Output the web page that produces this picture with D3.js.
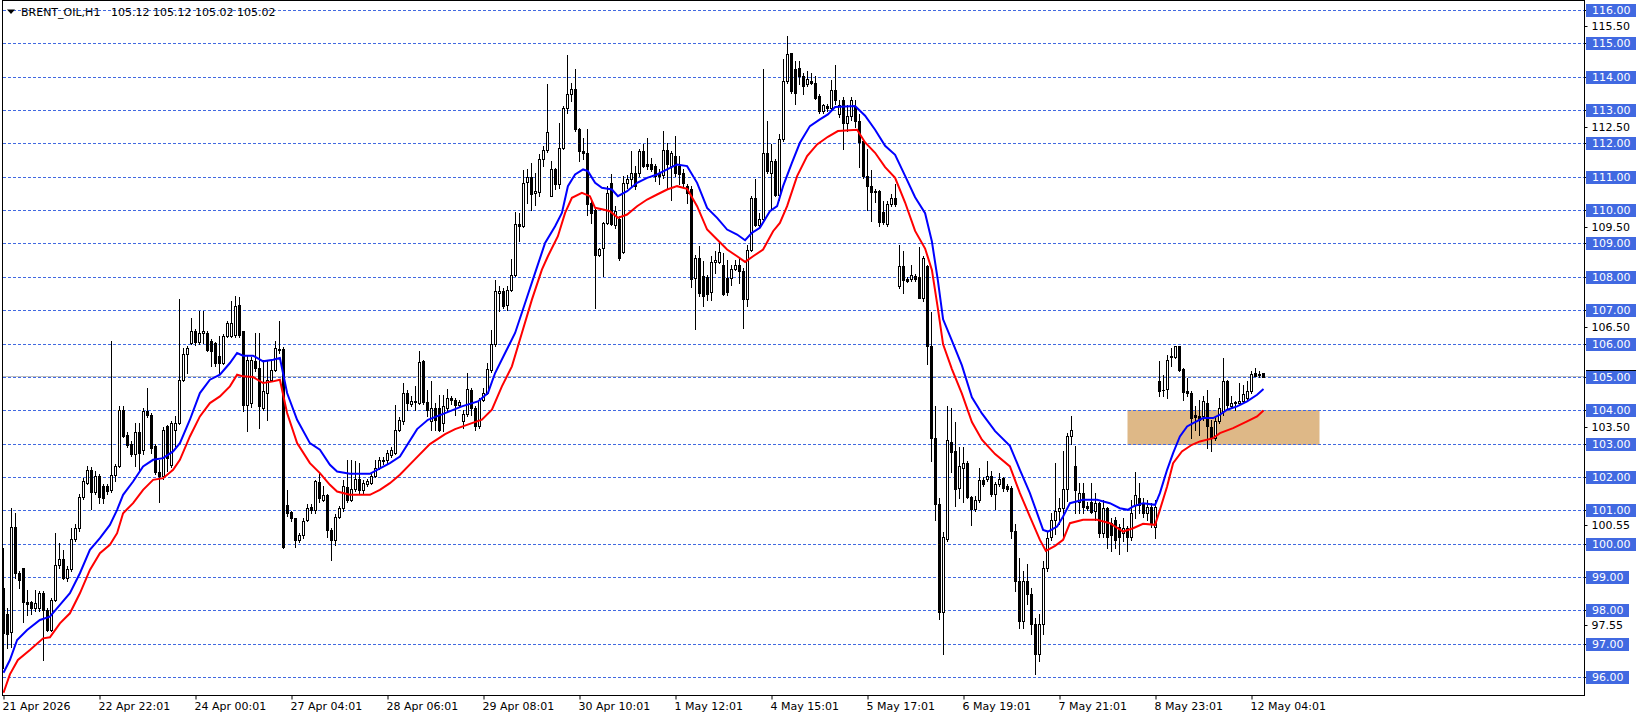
<!DOCTYPE html>
<html><head><meta charset="utf-8">
<script src="https://cdn.jsdelivr.net/npm/d3@7"></script>
<style>
body{margin:0;background:#fff}
svg{display:block}
text{font-family:"DejaVu Sans",sans-serif;font-size:11px}
</style>
</head><body>
<svg id="chart" width="1641" height="719"></svg>
<script>
// ---- DATA ----
const title = "BRENT_OIL,H1";
const titleValues = "105.12 105.12 105.02 105.02";
// hourly candles: [open, high, low, close]
const ohlc = [
[98.70,99.90,96.30,97.35],[97.90,98.10,96.90,97.30],[97.38,101.08,96.93,100.53],[100.53,100.93,99.00,99.13],[99.15,99.20,98.70,98.93],
[99.28,99.30,97.68,98.28],[98.28,98.63,97.88,98.20],[98.28,98.30,97.90,98.08],[98.08,98.63,98.00,98.25],[98.08,98.60,98.00,98.53],
[98.53,98.60,96.53,98.03],[98.03,98.10,97.40,97.43],[97.43,98.40,97.40,98.33],[98.33,100.33,98.30,99.38],[99.38,100.03,99.30,99.55],
[99.55,99.83,98.95,99.00],[99.00,99.35,98.90,99.25],[99.25,100.48,99.20,100.17],[100.17,100.60,100.10,100.48],[100.48,101.50,100.40,101.41],
[101.41,101.98,101.35,101.88],[101.83,102.35,101.80,102.23],[102.21,102.30,101.05,101.56],[101.56,102.18,101.50,102.03],[102.03,102.10,101.23,101.41],
[101.73,101.80,101.23,101.38],[101.73,101.80,101.50,101.58],[101.63,106.10,101.55,102.08],[102.08,102.40,101.90,102.33],[102.33,104.13,102.30,104.03],
[104.03,104.13,103.20,103.25],[103.28,103.35,102.90,102.96],[103.00,103.10,102.65,102.71],[102.71,103.63,102.33,103.35],[103.35,103.63,102.21,102.73],
[102.83,104.08,102.70,104.00],[104.00,104.68,103.80,103.88],[103.88,103.93,102.73,102.88],[102.93,103.00,102.10,102.15],[102.15,102.53,101.28,102.03],
[102.03,103.50,101.95,103.43],[103.53,103.58,102.18,102.58],[102.38,103.70,102.30,103.63],[103.43,103.83,102.93,103.63],[103.63,107.35,103.60,104.93],
[104.93,105.88,104.90,105.71],[105.71,105.93,105.13,105.88],[106.03,106.78,106.00,106.38],[106.38,106.45,105.98,106.05],[106.05,106.98,106.00,106.33],
[106.33,106.98,106.03,106.38],[106.33,106.40,105.80,105.83],[106.08,106.15,105.35,105.78],[106.03,106.05,105.33,105.43],[105.63,106.23,105.13,105.43],
[105.43,106.30,105.40,106.23],[106.23,106.70,106.20,106.63],[106.23,107.28,106.20,106.63],[106.28,107.43,106.20,107.15],[107.18,107.40,106.20,106.28],
[106.38,106.40,103.98,104.18],[104.18,105.63,103.38,105.53],[104.23,105.60,104.10,105.53],[105.48,106.33,105.20,105.28],[105.28,106.33,103.48,104.13],
[104.08,105.53,104.03,104.58],[104.53,105.48,103.73,104.93],[104.93,105.53,104.88,105.23],[105.23,106.08,105.20,105.88],[105.86,106.68,105.73,105.83],
[105.86,105.90,99.90,99.93],[101.18,101.63,100.85,100.93],[100.98,101.00,100.70,100.78],[100.78,100.80,99.93,100.13],[100.13,100.35,100.08,100.28],
[100.28,100.80,100.20,100.71],[100.73,101.21,100.70,101.08],[101.11,101.20,100.95,101.03],[101.03,101.93,100.95,101.88],[101.85,102.13,101.28,101.38],
[101.33,101.73,101.30,101.48],[101.48,101.50,100.23,100.43],[100.43,100.50,99.53,100.13],[100.13,100.90,99.98,100.83],[100.83,101.15,100.80,101.08],
[101.08,101.93,101.00,101.73],[101.71,102.53,101.28,101.33],[101.33,102.53,101.30,101.65],[101.65,102.48,101.60,101.95],[101.95,102.43,101.53,101.63],
[101.61,101.93,101.51,101.83],[101.81,101.95,101.75,101.88],[101.83,102.10,101.80,102.03],[102.03,102.53,102.00,102.28],[102.28,102.60,102.25,102.53],
[102.48,102.60,102.40,102.53],[102.53,102.83,102.43,102.73],[102.68,102.90,102.60,102.83],[102.73,104.18,102.70,103.43],[103.43,103.80,103.40,103.73],
[103.68,104.83,103.60,104.53],[104.53,104.63,104.03,104.23],[104.20,104.43,104.13,104.30],[104.28,104.73,104.03,104.25],[104.23,105.78,104.20,105.45],
[105.48,105.53,104.20,104.25],[104.25,104.63,103.83,104.03],[103.68,104.88,103.43,104.08],[104.08,104.23,103.43,103.73],[104.08,104.48,103.40,103.43],
[103.63,104.48,103.40,104.13],[104.08,104.65,104.00,104.38],[104.38,104.43,104.20,104.31],[104.33,104.38,103.88,104.18],[104.18,104.31,104.13,104.25],
[103.68,104.03,103.48,103.91],[103.91,105.13,103.85,104.65],[104.63,104.68,103.88,104.08],[104.08,104.13,103.43,103.53],[103.53,104.38,103.48,104.33],
[104.33,104.68,104.28,104.53],[104.53,105.43,104.50,105.25],[105.21,106.41,105.15,106.01],[106.01,107.93,105.95,107.58],[107.53,107.73,106.98,107.58],
[107.58,107.68,107.08,107.15],[107.18,107.73,107.03,107.63],[107.63,108.55,107.60,108.08],[108.08,109.95,108.03,109.61],[109.61,109.93,109.08,109.53],
[109.53,111.21,109.50,110.83],[110.85,111.23,110.23,111.00],[111.00,111.43,110.03,110.51],[110.53,111.13,110.18,110.58],[110.55,111.68,110.43,111.53],
[111.53,111.93,111.33,111.80],[111.80,113.78,111.75,112.36],[110.45,111.48,110.43,111.23],[111.23,111.28,110.63,110.78],[110.78,112.61,110.68,111.88],
[111.88,113.13,111.83,113.08],[113.08,114.66,112.93,113.48],[113.48,113.83,113.28,113.63],[113.65,114.23,112.38,112.43],[112.45,112.48,111.48,111.78],
[111.78,112.18,111.53,111.73],[111.73,112.43,109.86,110.21],[110.23,110.33,109.63,109.93],[110.03,110.05,107.08,108.68],[108.68,108.88,108.63,108.85],
[108.88,109.65,108.05,109.63],[109.63,110.73,109.60,110.53],[110.81,111.08,109.58,109.61],[109.58,110.13,109.48,109.98],[109.75,109.83,108.53,108.58],
[108.75,111.03,108.73,110.81],[110.81,111.05,110.68,110.93],[110.93,111.78,110.73,111.11],[111.11,111.33,110.65,110.73],[111.13,111.83,111.03,111.78],
[111.78,111.98,111.31,111.33],[111.38,112.18,111.23,111.33],[111.40,111.58,111.18,111.23],[111.33,111.38,110.88,111.03],[111.11,111.23,110.78,111.03],
[111.05,112.38,110.98,111.81],[111.81,112.03,110.68,111.38],[111.33,111.78,110.33,111.73],[111.63,112.23,111.03,111.11],[111.33,111.63,110.78,111.10],
[111.13,111.23,110.73,110.83],[110.73,110.78,110.23,110.53],[110.63,110.73,107.71,107.95],[107.98,108.68,106.45,108.58],[108.58,108.93,107.43,107.53],
[108.03,108.48,107.13,107.43],[108.01,108.08,107.33,107.51],[107.55,108.65,107.33,108.45],[108.45,108.78,108.13,108.51],[108.45,109.08,108.43,108.77],
[108.38,108.73,107.48,107.51],[107.98,108.53,107.48,107.55],[107.98,108.38,107.78,108.25],[108.25,108.53,108.23,108.37],[108.38,108.58,107.83,108.18],
[108.18,108.28,106.48,107.35],[107.35,108.98,107.13,108.81],[108.81,110.43,108.78,110.38],[110.38,110.93,109.53,109.58],[109.58,109.93,109.48,109.75],
[109.75,114.25,109.73,111.73],[111.73,112.68,111.13,111.18],[111.13,111.98,110.03,111.48],[111.48,111.53,110.43,110.48],[110.48,112.28,110.33,112.13],
[112.13,114.53,112.08,113.88],[113.88,115.23,113.83,114.68],[114.73,114.73,113.53,113.58],[114.25,114.48,113.18,113.53],[114.28,114.48,113.78,114.03],
[114.03,114.13,113.48,113.73],[113.78,114.18,113.73,113.93],[113.88,114.13,113.78,113.83],[113.83,114.03,113.33,113.38],[113.43,113.48,112.93,112.98],
[112.98,113.18,112.93,113.15],[113.13,113.18,112.98,113.08],[113.08,113.90,113.00,113.60],[113.60,114.35,113.20,113.30],[112.90,113.30,112.80,113.16],
[113.30,113.40,111.83,112.63],[112.63,113.15,112.37,112.84],[112.84,113.40,112.70,113.30],[113.10,113.30,112.50,112.68],[112.68,112.90,111.30,112.04],
[112.07,112.15,110.97,111.04],[111.04,111.83,110.03,110.72],[110.72,111.20,109.70,110.56],[110.58,110.65,110.25,110.55],[110.58,110.62,109.55,109.66],
[109.97,110.30,109.60,109.66],[109.60,110.30,109.55,110.19],[110.19,110.50,110.13,110.37],[110.37,110.80,110.13,110.19],[107.75,108.97,107.69,108.33],
[108.33,108.80,107.53,107.93],[107.95,108.00,107.85,107.90],[107.96,108.38,107.90,108.06],[108.05,108.10,107.90,107.95],[108.01,108.90,107.37,107.39],
[107.39,108.65,107.29,108.59],[108.33,108.38,105.41,105.94],[105.94,106.95,102.49,103.18],[103.18,104.14,100.74,101.22],[101.22,101.38,97.77,97.98],
[97.98,100.37,96.72,100.21],[100.16,104.14,100.10,103.13],[103.07,104.08,102.17,102.76],[102.80,103.65,101.16,101.64],[101.69,102.92,101.38,102.33],
[102.28,102.92,101.27,102.44],[102.44,102.50,101.38,101.43],[101.43,101.45,100.58,101.06],[101.06,101.45,101.00,101.32],[101.32,102.28,101.27,101.91],
[101.93,102.00,101.75,101.80],[101.96,102.49,101.90,102.04],[102.04,102.20,101.45,101.50],[101.50,101.85,101.06,101.80],[101.80,102.12,101.75,101.96],
[101.98,102.00,101.59,101.69],[101.74,101.80,101.59,101.64],[101.68,101.73,100.20,100.40],[100.40,100.60,98.60,98.90],[98.90,99.60,97.50,97.70],
[97.70,99.20,97.50,98.90],[98.90,99.40,98.20,98.50],[98.50,98.70,97.30,97.60],[97.60,97.80,96.10,96.70],[96.70,97.90,96.50,97.60],
[97.60,99.50,97.30,99.30],[99.30,100.40,99.20,100.20],[100.23,100.93,100.13,100.73],[100.73,102.43,100.30,101.00],[101.00,101.40,100.60,101.10],
[101.10,102.80,100.20,101.65],[101.65,103.33,101.30,103.25],[103.25,103.83,103.00,103.43],[102.35,102.93,100.93,101.63],[101.28,101.83,100.93,101.53],
[101.53,101.83,100.93,101.13],[101.15,101.28,101.03,101.10],[101.28,101.83,100.93,100.98],[101.01,101.53,100.73,101.25],[101.23,101.28,100.23,100.33],
[100.33,101.33,100.23,101.08],[101.08,101.13,99.90,100.23],[100.63,100.80,99.80,100.28],[100.73,100.83,99.90,100.13],[100.53,100.60,99.70,100.23],
[100.33,100.78,100.10,100.48],[100.48,100.55,99.80,100.23],[100.23,101.33,100.13,100.95],[101.18,102.16,100.78,101.48],[101.38,101.83,100.93,101.18],
[101.25,101.38,100.83,100.93],[100.93,101.33,100.73,101.13],[101.13,101.23,100.53,100.63],[100.53,101.33,100.20,101.13],[104.88,105.48,104.43,104.58],
[104.63,105.08,104.43,104.61],[104.65,105.68,104.38,105.53],[105.61,105.88,105.33,105.63],[105.61,105.95,105.58,105.93],[105.93,105.95,105.18,105.21],
[105.25,105.28,104.33,104.55],[104.58,104.98,104.43,104.53],[104.53,104.58,103.18,103.78],[103.88,104.13,103.43,103.81],[103.83,104.33,103.28,103.73],
[103.83,104.43,103.73,104.28],[104.23,104.63,102.88,103.53],[103.51,103.73,102.78,103.18],[103.18,103.83,103.13,103.68],[103.68,104.38,103.63,104.08],
[103.98,105.58,103.88,104.90],[104.90,104.93,104.08,104.18],[104.15,104.43,104.08,104.23],[104.23,104.28,104.03,104.25],[104.23,104.83,104.18,104.28],
[104.28,104.78,104.23,104.51],[104.38,104.88,104.33,104.60],[104.58,105.18,104.53,105.11],[105.13,105.28,105.03,105.05],[105.11,105.18,105.00,105.08],
[105.12,105.12,105.02,105.02]
];
// moving averages: [bar index, price]
const blueMA = [[0,96.15],[1.6,96.53],[3.4,97.13],[5.9,97.43],[9.1,97.73],[11.6,97.83],[14.1,98.18],[16.6,98.53],[19.1,99.13],[21.6,99.83],
[24.1,100.18],[26.6,100.58],[28.4,101.03],[29.9,101.48],[32.4,101.88],[34.9,102.33],[37.4,102.53],[39.9,102.58],[42.4,102.78],[44.1,103.03],
[46.6,103.73],[49.1,104.53],[51.6,104.93],[54.1,105.08],[56.6,105.43],[58.4,105.73],[59.9,105.65],[62.4,105.65],[64.9,105.48],[67.4,105.53],
[69.1,105.58],[70.9,104.53],[73.4,103.73],[76.6,103.03],[79.1,102.83],[81.6,102.38],[83.4,102.18],[86.6,102.11],[91.6,102.11],[93.4,102.23],
[96.6,102.43],[99.1,102.63],[103.4,103.45],[106.1,103.73],[110.4,103.93],[114.6,104.13],[118.6,104.28],[121.1,104.53],[122.9,105.13],[125.4,105.73],
[127.9,106.33],[130.4,107.23],[132.9,108.13],[135.4,109.03],[137.9,109.53],[139.6,109.93],[141.1,110.73],[142.9,111.08],[144.9,111.23],[146.1,111.18],
[147.9,110.83],[149.6,110.68],[152.1,110.63],[153.6,110.43],[155.9,110.58],[158.4,110.83],[160.9,110.98],[163.4,111.08],[165.9,111.23],[168.4,111.38],
[170.9,111.33],[173.4,110.83],[175.9,110.08],[178.4,109.78],[180.9,109.43],[183.4,109.28],[185.4,109.11],[187.1,109.33],[189.1,109.48],[191.6,109.98],
[193.4,110.13],[194.9,110.73],[197.1,111.43],[199.1,112.03],[201.6,112.53],[204.1,112.73],[206.1,112.88],[207.9,113.10],[212.9,113.13],[215.4,112.84],
[217.9,112.42],[220.4,111.94],[222.9,111.67],[225.4,111.04],[227.9,110.40],[230.4,109.92],[232.1,109.07],[233.6,107.90],[234.9,106.74],[237.1,106.10],
[239.6,105.36],[242.1,104.40],[244.6,103.92],[247.9,103.39],[251.6,102.95],[254.1,102.23],[256.6,101.53],[258.4,100.93],[259.9,100.43],[261.1,100.38],
[263.4,100.53],[264.9,100.83],[266.6,101.23],[269.9,101.33],[273.4,101.33],[276.6,101.23],[279.1,101.08],[281.1,101.03],[282.4,101.13],[284.9,101.23],
[287.9,101.18],[289.1,101.53],[290.9,102.23],[292.4,102.73],[294.1,103.23],[295.9,103.53],[297.4,103.63],[299.9,103.78],[302.4,103.78],[304.1,103.88],
[305.9,104.03],[308.4,104.13],[310.9,104.28],[313.4,104.48],[315,104.65]];
const redMA = [[0,95.55],[1.6,96.10],[3.6,96.53],[6.6,96.83],[9.9,97.18],[11.6,97.21],[14.1,97.63],[16.6,97.93],[19.1,98.53],[21.6,99.23],
[24.1,99.73],[26.6,99.98],[28.4,100.33],[29.9,100.93],[32.4,101.23],[34.9,101.63],[37.4,101.93],[39.9,101.98],[42.4,102.23],[44.1,102.53],
[46.6,103.23],[49.1,103.83],[51.6,104.23],[54.1,104.43],[56.6,104.73],[58.4,105.08],[59.9,105.03],[62.4,105.01],[64.9,104.83],[67.4,104.88],
[69.1,104.93],[70.9,103.93],[73.4,103.03],[76.6,102.43],[79.1,102.13],[81.6,101.78],[83.4,101.58],[86.6,101.48],[91.6,101.48],[94.1,101.63],
[96.6,101.83],[99.1,102.08],[102.9,102.55],[106.6,103.00],[110.4,103.30],[112.9,103.45],[117.1,103.63],[119.6,103.73],[122.1,104.03],[124.6,104.73],
[127.1,105.33],[129.6,106.33],[132.1,107.33],[134.6,108.23],[136.1,108.63],[138.6,109.23],[140.4,109.93],[142.1,110.38],[144.6,110.53],[146.6,110.43],
[147.9,110.08],[149.9,110.03],[151.6,109.98],[153.6,109.78],[155.9,109.88],[158.4,110.13],[160.9,110.33],[163.4,110.48],[165.9,110.63],[168.4,110.73],
[170.9,110.65],[173.4,110.13],[175.9,109.43],[178.4,109.13],[180.9,108.83],[183.4,108.63],[185.4,108.46],[187.4,108.63],[189.9,108.83],[192.4,109.38],
[194.1,109.63],[195.9,110.13],[198.4,111.03],[200.9,111.63],[203.4,111.98],[206.1,112.21],[208.6,112.38],[213.4,112.42],[215.4,112.04],[217.9,111.73],
[220.4,111.30],[222.9,110.98],[225.4,110.24],[227.9,109.39],[230.4,108.86],[232.1,108.22],[233.6,107.06],[234.9,105.99],[237.1,105.25],[239.6,104.51],
[242.1,103.66],[244.6,103.13],[247.9,102.70],[251.6,102.33],[254.1,101.53],[256.6,100.83],[259.1,100.13],[260.6,99.80],[262.9,99.95],[264.9,100.13],
[266.6,100.63],[269.9,100.73],[273.4,100.73],[276.6,100.63],[279.9,100.38],[282.4,100.48],[284.9,100.61],[287.9,100.58],[289.1,101.03],[290.9,101.73],
[292.4,102.43],[294.6,102.78],[297.1,102.98],[299.1,103.08],[302.4,103.18],[304.1,103.33],[307.4,103.48],[310.9,103.68],[313.4,103.83],[315,104.01]];
const timeLabels = ["21 Apr 2026","22 Apr 22:01","24 Apr 00:01","27 Apr 04:01","28 Apr 06:01","29 Apr 08:01","30 Apr 10:01",
  "1 May 12:01","4 May 15:01","5 May 17:01","6 May 19:01","7 May 21:01","8 May 23:01","12 May 04:01"];
const timeTickBars = [0,24,48,72,96,120,144,168,192,216,240,264,288,312];
const gridLevels = d3.range(96, 117, 1);
const halfLevels = [115.5,112.5,109.5,106.5,103.5,100.55,97.55];
const zoneBars = [281, 329];
const zonePrices = [103, 104];
const bidPrice = 105.02;

// ---- LAYOUT ----
const W = 1641, H = 719;
const L = 2.5, R = 1584.5, T = 0.5, B = 695.5;
const svg = d3.select("#chart");
svg.append("rect").attr("width", W).attr("height", H).attr("fill", "#fff");

const x = d3.scaleLinear().domain([0, 395]).range([3.5, 3.5 + 4 * 395]);
const y = d3.scaleLinear().domain([96, 116]).range([677.7, 10.3]);
const snap = v => Math.floor(v) + 0.5;
const gridColor = "#4169e1";

// zone rectangle
svg.append("rect")
  .attr("x", x(zoneBars[0])).attr("width", x(zoneBars[1]) - x(zoneBars[0]))
  .attr("y", Math.floor(y(zonePrices[1]))).attr("height", Math.floor(y(zonePrices[0])) - Math.floor(y(zonePrices[1])) + 1)
  .attr("fill", "#deb887");

// bid line
svg.append("line").attr("x1", L).attr("x2", R)
  .attr("y1", snap(y(bidPrice))).attr("y2", snap(y(bidPrice)))
  .attr("stroke", "#c0c0c0").attr("stroke-width", 1);

// dashed grid
svg.append("g").selectAll("line").data(gridLevels).join("line")
  .attr("x1", 3).attr("x2", R - 0.5)
  .attr("y1", d => snap(y(d))).attr("y2", d => snap(y(d)))
  .attr("stroke", gridColor).attr("stroke-width", 1).attr("stroke-dasharray", "3,2");

// candles
const cg = svg.append("g");
ohlc.forEach((d, i) => {
  const [o, h, l, c] = d;
  const cx = x(i);
  cg.append("line").attr("x1", cx).attr("x2", cx)
    .attr("y1", Math.round(y(h))).attr("y2", Math.round(y(l)) + 1)
    .attr("stroke", "#000").attr("stroke-width", 1);
  if (c >= o) {
    const top = Math.round(y(c)) + 0.5, bot = Math.round(y(o)) + 0.5;
    cg.append("rect").attr("x", cx - 1).attr("width", 2)
      .attr("y", top).attr("height", Math.max(bot - top, 0))
      .attr("fill", "#fff").attr("stroke", "#000").attr("stroke-width", 1);
  } else {
    const top = Math.round(y(o)), bot = Math.round(y(c)) + 1;
    cg.append("rect").attr("x", cx - 1.5).attr("width", 3)
      .attr("y", top).attr("height", bot - top).attr("fill", "#000");
  }
});

// moving averages
const line = d3.line().x(d => x(d[0])).y(d => y(d[1]));
svg.append("path").datum(redMA).attr("d", line).attr("fill", "none").attr("stroke", "#ff0000").attr("stroke-width", 2);
svg.append("path").datum(blueMA).attr("d", line).attr("fill", "none").attr("stroke", "#0000ff").attr("stroke-width", 2);

// frame
svg.append("rect").attr("x", L).attr("y", T).attr("width", R - L).attr("height", B - T)
  .attr("fill", "none").attr("stroke", "#000").attr("stroke-width", 1);

// time axis
const xAxis = d3.axisBottom(x).tickValues(timeTickBars).tickFormat((d, i) => timeLabels[i]).tickSize(4).tickSizeOuter(0);
const gx = svg.append("g").attr("transform", `translate(0,${B})`).call(xAxis);
gx.select(".domain").remove();
gx.selectAll("text").attr("text-anchor", "start").attr("x", -1.5).attr("y", 7).attr("dy", "0.71em")
  .attr("font-family", "DejaVu Sans").attr("font-size", 11).attr("fill", "#000");
gx.selectAll(".tick line").attr("stroke", "#000");

// price axis: half levels (plain text)
const yAxis = d3.axisRight(y).tickValues(halfLevels).tickFormat(d => d.toFixed(2)).tickSize(3).tickSizeOuter(0);
const gy = svg.append("g").attr("transform", `translate(${R},0)`).call(yAxis);
gy.select(".domain").remove();
gy.selectAll(".tick").attr("transform", d => `translate(0,${snap(y(d))})`);
gy.selectAll("text").attr("x", 7).attr("dy", "0.35em")
  .attr("font-family", "DejaVu Sans").attr("font-size", 11).attr("fill", "#000");
gy.selectAll(".tick line").attr("stroke", "#000");

// price axis: integer levels (boxed)
const lg = svg.append("g");
gridLevels.forEach(p => {
  const yy = Math.floor(y(p));
  const g = lg.append("g");
  const rect = g.append("rect").attr("x", 1586).attr("y", yy - 6).attr("height", 13).attr("fill", gridColor);
  const t = g.append("text").attr("x", 1592).attr("y", yy).attr("dy", "0.35em")
    .attr("fill", "#fff").text(p.toFixed(2));
  const len = t.node().getComputedTextLength();
  rect.attr("width", Math.round(len) + 11);
  g.append("line").attr("x1", R).attr("x2", 1586).attr("y1", yy + 0.5).attr("y2", yy + 0.5).attr("stroke", "#000");
  if (p === 105) {
    g.append("line").attr("x1", 1586).attr("x2", 1586 + Math.round(len) + 11)
      .attr("y1", yy - 6.5).attr("y2", yy - 6.5).attr("stroke", "#000");
  }
});

// title
svg.append("path").attr("d", d3.line()([[7, 9.5], [15, 9.5], [11, 14]]) + "Z").attr("fill", "#000");
svg.append("text").attr("x", 21).attr("y", 16).attr("fill", "#000").text(title);
svg.append("text").attr("x", 111).attr("y", 16).attr("fill", "#000").text(titleValues);
</script>
</body></html>
